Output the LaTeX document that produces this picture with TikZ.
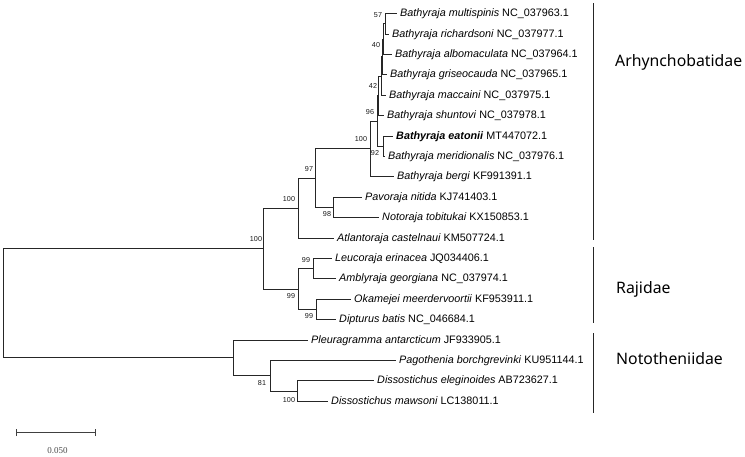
\documentclass[tikz,border=0pt]{standalone}
\usepackage{fontspec}
\setmainfont{Liberation Sans}
\newfontfamily\famfont{Noto Sans}
\newfontfamily\scalebarfont{Liberation Serif}
\begin{document}
\begin{tikzpicture}[x=1pt,y=-1pt,
  br/.style={draw=black!85, line width=0.75pt},
  tiplab/.style={anchor=west, inner xsep=3pt, inner ysep=0pt, font=\fontsize{10.8}{12}\selectfont, text height=8pt, text depth=1.5pt},
  bs/.style={font=\fontsize{7.2}{8}\selectfont, inner sep=0pt, text=black!90},
  fam/.style={anchor=west, font=\famfont\fontsize{15.8}{18}\selectfont, inner sep=0pt},
  famrule/.style={draw=black!85, line width=0.9pt},
  sbar/.style={draw=black!75, line width=0.8pt}]
\useasboundingbox (0,0) rectangle (745,456);
% ---- tips
\node[tiplab] (t0)  at (397,13.5)  {\textit{Bathyraja multispinis} NC\_037963.1};
\node[tiplab] (t1)  at (389,33.9)  {\textit{Bathyraja richardsoni} NC\_037977.1};
\node[tiplab] (t2)  at (392,54.3)  {\textit{Bathyraja albomaculata} NC\_037964.1};
\node[tiplab] (t3)  at (387,74.7)  {\textit{Bathyraja griseocauda} NC\_037965.1};
\node[tiplab] (t4)  at (386,95.1)  {\textit{Bathyraja maccaini} NC\_037975.1};
\node[tiplab] (t5)  at (384,115.5) {\textit{Bathyraja shuntovi} NC\_037978.1};
\node[tiplab] (t6)  at (393,135.9) {\textbf{\textit{Bathyraja eatonii}} MT447072.1};
\node[tiplab] (t7)  at (385,156.3) {\textit{Bathyraja meridionalis} NC\_037976.1};
\node[tiplab] (t8)  at (394,176.7) {\textit{Bathyraja bergi} KF991391.1};
\node[tiplab] (t9)  at (362,197.1) {\textit{Pavoraja nitida} KJ741403.1};
\node[tiplab] (t10) at (379,217.5) {\textit{Notoraja tobitukai} KX150853.1};
\node[tiplab] (t11) at (334,237.9) {\textit{Atlantoraja castelnaui} KM507724.1};
\node[tiplab] (t12) at (332,258.3) {\textit{Leucoraja erinacea} JQ034406.1};
\node[tiplab] (t13) at (336,278.7) {\textit{Amblyraja georgiana} NC\_037974.1};
\node[tiplab] (t14) at (351,299.1) {\textit{Okamejei meerdervoortii} KF953911.1};
\node[tiplab] (t15) at (336,319.5) {\textit{Dipturus batis} NC\_046684.1};
\node[tiplab] (t16) at (308,339.9) {\textit{Pleuragramma antarcticum} JF933905.1};
\node[tiplab] (t17) at (396,360.3) {\textit{Pagothenia borchgrevinki} KU951144.1};
\node[tiplab] (t18) at (374,380.7) {\textit{Dissostichus eleginoides} AB723627.1};
\node[tiplab] (t19) at (328,401.1) {\textit{Dissostichus mawsoni} LC138011.1};
% ---- internal nodes
\coordinate (n57)  at (385,23.7);
\coordinate (n40)  at (383,39.0);
\coordinate (nf)   at (382,56.85);
\coordinate (n42)  at (381,75.98);
\coordinate (ng)   at (378,95.74);
\coordinate (n92)  at (383,146.1);
\coordinate (nh)   at (377,120.92);
\coordinate (nbat) at (370,148.81);
\coordinate (n98)  at (333,207.3);
\coordinate (n97)  at (315,178.06);
\coordinate (narh) at (298,207.98);
\coordinate (nla)  at (313,268.5);
\coordinate (nod)  at (316,309.3);
\coordinate (nraj) at (298,288.9);
\coordinate (nsk)  at (263,248.44);
\coordinate (nmd)  at (297,390.9);
\coordinate (n81)  at (270,375.6);
\coordinate (nnot) at (233,357.75);
\coordinate (root) at (3,303.1);
% ---- branches
\draw[br] (n57) |- (t0.west);  \draw[br] (n57) |- (t1.west);
\draw[br] (n40) |- (n57);      \draw[br] (n40) |- (t2.west);
\draw[br] (nf) |- (n40);       \draw[br] (nf) |- (t3.west);
\draw[br] (n42) |- (nf);       \draw[br] (n42) |- (t4.west);
\draw[br] (ng) |- (n42);       \draw[br] (ng) |- (t5.west);
\draw[br] (n92) |- (t6.west);  \draw[br] (n92) |- (t7.west);
\draw[br] (nh) |- (ng);        \draw[br] (nh) |- (n92);
\draw[br] (nbat) |- (nh);      \draw[br] (nbat) |- (t8.west);
\draw[br] (n98) |- (t9.west);  \draw[br] (n98) |- (t10.west);
\draw[br] (n97) |- (nbat);     \draw[br] (n97) |- (n98);
\draw[br] (narh) |- (n97);     \draw[br] (narh) |- (t11.west);
\draw[br] (nla) |- (t12.west); \draw[br] (nla) |- (t13.west);
\draw[br] (nod) |- (t14.west); \draw[br] (nod) |- (t15.west);
\draw[br] (nraj) |- (nla);     \draw[br] (nraj) |- (nod);
\draw[br] (nsk) |- (narh);     \draw[br] (nsk) |- (nraj);
\draw[br] (nmd) |- (t18.west); \draw[br] (nmd) |- (t19.west);
\draw[br] (n81) |- (t17.west); \draw[br] (n81) |- (nmd);
\draw[br] (nnot) |- (t16.west); \draw[br] (nnot) |- (n81);
\draw[br] (root) |- (nsk);     \draw[br] (root) |- (nnot);
% ---- bootstrap values
\node[bs] (b57)  at (378,15)  {57};
\node[bs] (b40)  at (376,45)  {40};
\node[bs] (b42)  at (373,86)  {42};
\node[bs] (b96)  at (370,112) {96};
\node[bs] (bbat) at (361,139) {100};
\node[bs] (b92)  at (375,153) {92};
\node[bs] (b97)  at (309,169) {97};
\node[bs] (b98)  at (327,214) {98};
\node[bs] (barh) at (289,199) {100};
\node[bs] (bsk)  at (256,239) {100};
\node[bs] (bla)  at (306,260) {99};
\node[bs] (braj) at (291,296) {99};
\node[bs] (bod)  at (309,316) {99};
\node[bs] (b81)  at (262,383) {81};
\node[bs] (bmd)  at (289,400) {100};
% ---- family bars
\coordinate (a1) at (593.3,3);   \coordinate (a2) at (593.3,240);
\coordinate (r1) at (593.3,247); \coordinate (r2) at (593.3,322.5);
\coordinate (o1) at (593.3,333); \coordinate (o2) at (593.3,412.5);
\draw[famrule] (a1) -- (a2);
\draw[famrule] (r1) -- (r2);
\draw[famrule] (o1) -- (o2);
\node[fam] (farh) at (615,62)  {Arhynchobatidae};
\node[fam] (fraj) at (616,289) {Rajidae};
\node[fam] (fnot) at (616,359) {Nototheniidae};
% ---- scale bar
\coordinate (s1) at (16,432.7);
\coordinate (s2) at (95.7,432.7);
\draw[sbar] (s1) -- (s2);
\draw[sbar] ([yshift=-3.5pt]s1) -- ([yshift=3.5pt]s1);
\draw[sbar] ([yshift=-3.5pt]s2) -- ([yshift=3.5pt]s2);
\node[font=\scalebarfont\fontsize{9}{10}\selectfont, text=black!70, inner sep=0pt] (slab) at (57.5,451) {0.050};
\end{tikzpicture}
\end{document}
